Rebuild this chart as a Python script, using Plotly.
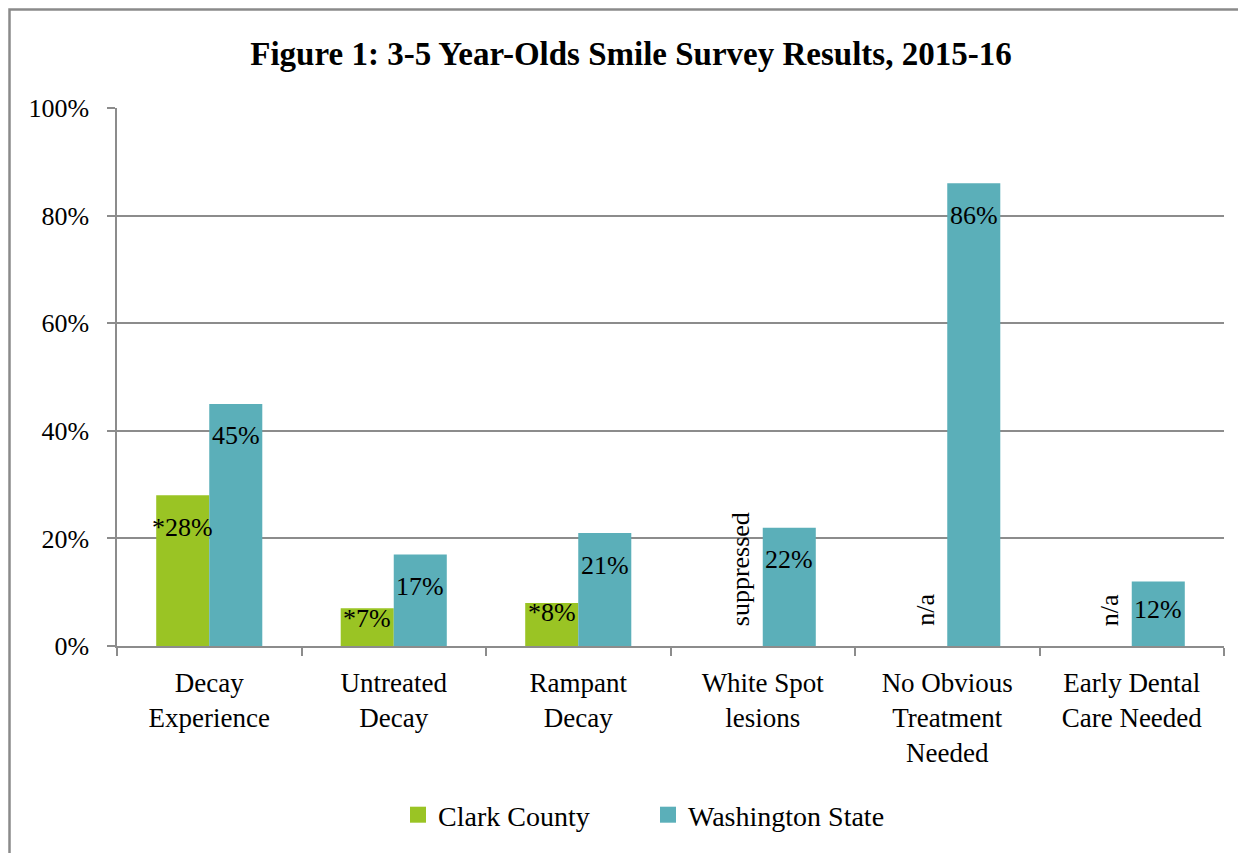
import plotly.graph_objects as go

categories = ["Decay<br>Experience", "Untreated<br>Decay", "Rampant<br>Decay",
              "White Spot<br>lesions", "No Obvious<br>Treatment<br>Needed",
              "Early Dental<br>Care Needed"]
clark = [28, 7, 8, None, None, None]
clark_labels = ["*28%", "*7%", "*8%", "suppressed", "n/a", "n/a"]
washington = [45, 17, 21, 22, 86, 12]
washington_labels = ["45%", "17%", "21%", "22%", "86%", "12%"]

green = "#9AC424"
teal = "#5BAFB9"
grid = "#8C8C8C"
font_family = "Liberation Serif"

# figure sits 8px in from the page edge (body margin)
W, H = 1238, 845
ml, mr, mt, mb = 109, 22, 100, 207
plot_w = W - ml - mr
plot_h = H - mt - mb

fig = go.Figure()
fig.add_trace(go.Bar(x=categories, y=clark, name="Clark County", showlegend=False,
                     marker=dict(color=green, line=dict(width=0))))
fig.add_trace(go.Bar(x=categories, y=washington, name="Washington State", showlegend=False,
                     marker=dict(color=teal, line=dict(width=0))))
# legend entries with larger square swatches
fig.add_trace(go.Scatter(x=[None], y=[None], mode="markers", name="Clark County",
                         marker=dict(symbol="square", size=16, color=green)))
fig.add_trace(go.Scatter(x=[None], y=[None], mode="markers", name="Washington State",
                         marker=dict(symbol="square", size=16, color=teal)))

cat_w = plot_w / len(categories)
bargap = 0.425
half = cat_w * (1 - bargap) / 4

lab_font = dict(size=26, color="black", family=font_family)
for cat, v, lab in zip(categories, clark, clark_labels):
    if v is None:
        fig.add_annotation(x=cat, y=0, xref="x", yref="y", text=lab,
                           textangle=-90, showarrow=False, xshift=-half + 4,
                           yanchor="bottom", yshift=18, font=lab_font)
    else:
        fig.add_annotation(x=cat, y=v, xref="x", yref="y", text=lab,
                           showarrow=False, xshift=-half, yanchor="middle",
                           yshift=-32 if v > 12 else -10, font=lab_font)

for cat, v, lab in zip(categories, washington, washington_labels):
    fig.add_annotation(x=cat, y=v, xref="x", yref="y", text=lab,
                       showarrow=False, xshift=half, yanchor="middle",
                       yshift=-32 if v > 12 else -28, font=lab_font)

# outer chart border (only left and top edges show in the frame)
fig.add_shape(type="rect", xref="paper", yref="paper",
              x0=(1.5 - ml) / plot_w, x1=(W + 10 - ml) / plot_w,
              y0=-(mb + 10) / plot_h, y1=(plot_h + mt - 1.5) / plot_h,
              line=dict(color="#8A8A8A", width=2.5))

fig.update_layout(
    width=W, height=H,
    margin=dict(l=ml, r=mr, t=mt, b=mb),
    paper_bgcolor="white", plot_bgcolor="white",
    barmode="group", bargap=bargap, bargroupgap=0,
    title=dict(text="<b>Figure 1: 3-5 Year-Olds Smile Survey Results, 2015-16</b>",
               x=(631 - 8) / W, xanchor="center", y=1 - 45 / H, yanchor="middle",
               font=dict(size=33, color="black", family=font_family)),
    font=dict(family=font_family, size=26, color="black"),
    showlegend=True,
    legend=dict(orientation="h", x=(398 - 8 - ml) / plot_w, xanchor="left",
                y=(mt + plot_h - 807) / plot_h, yanchor="middle",
                font=dict(size=28, color="black", family=font_family),
                itemwidth=30, tracegroupgap=0,
                entrywidth=205, entrywidthmode="pixels"),
    xaxis=dict(showline=True, linecolor=grid, linewidth=1.5,
               ticks="outside", tickson="boundaries", ticklen=8, tickcolor=grid,
               tickwidth=1.5, ticklabelstandoff=12,
               tickfont=dict(size=27, color="black", family=font_family)),
    yaxis=dict(range=[0, 100], dtick=20, ticksuffix="%",
               showgrid=True, gridcolor=grid, gridwidth=1.5,
               showline=True, linecolor=grid, linewidth=1.5,
               ticks="outside", ticklen=8, tickcolor=grid, tickwidth=1.5,
               zeroline=False, ticklabelstandoff=13,
               tickfont=dict(size=26, color="black", family=font_family)),
)

fig.write_html("out.html")
